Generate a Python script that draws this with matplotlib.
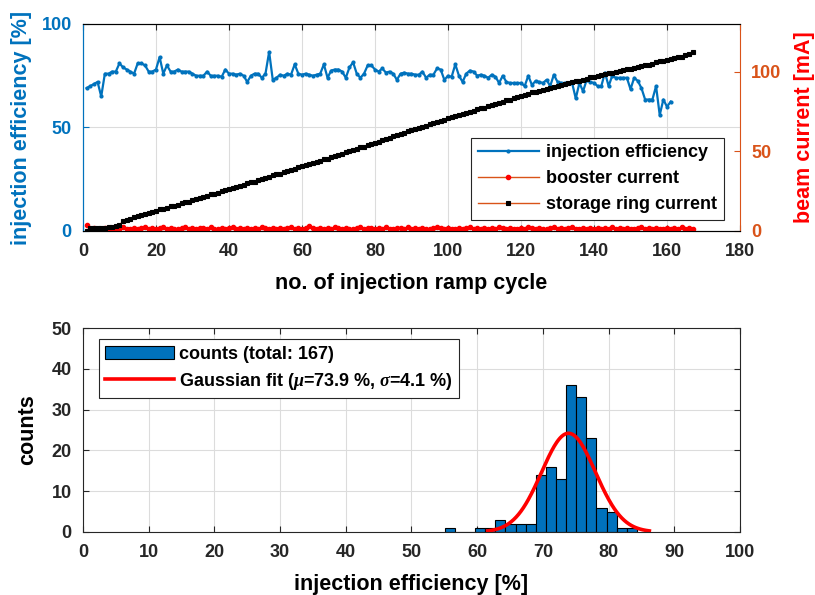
import numpy as np
import matplotlib
matplotlib.use('Agg')
from matplotlib import pyplot as plt

plt.rcParams['font.family'] = ['Liberation Sans', 'DejaVu Sans']
plt.rcParams['font.weight'] = 'bold'
plt.rcParams['axes.labelweight'] = 'bold'
plt.rcParams['mathtext.fontset'] = 'custom'
plt.rcParams['mathtext.it'] = 'Liberation Serif:italic:bold'

# injection efficiency [%] per ramp cycle (cycles 1..161)
inj_eff = [
    69, 70, 71, 72, 65, 76, 76, 77, 77, 81,
    79, 78, 77, 76, 81, 81, 80, 77, 77, 78,
    84, 76, 80, 77, 77, 78, 77, 77, 77, 76,
    75, 75, 75, 77, 75, 75, 75, 74.5, 78, 76,
    76, 75.5, 76, 75, 72, 75, 76, 76, 74, 76,
    86.5, 73, 74, 75.5, 75, 76, 75.5, 80.5, 76, 75.5,
    76, 75.5, 75, 75.5, 76, 80.5, 74, 77.5, 78, 78,
    77, 74, 79, 81.5, 76, 74, 76, 80, 80, 78,
    77, 78.5, 76.5, 77, 76, 73, 76, 76.5, 76, 76,
    75.5, 75.5, 77, 74, 75.5, 75.5, 78.5, 78, 73, 75,
    74.5, 80.5, 75, 72, 76, 77.5, 77, 75, 75.5, 75,
    74, 75.5, 74.5, 71.5, 75, 72, 71.5, 71.5, 71.5, 71.5,
    70, 75, 70.5, 72.5, 72, 71.5, 73, 70, 75.5, 72,
    71.5, 71.5, 71.5, 71.5, 64, 71.5, 67.5, 73, 72, 71.5,
    70, 70, 76.5, 70, 75, 74, 74, 74, 74, 68.5,
    74, 72.5, 69, 63.5, 63.5, 63.5, 70, 56, 63.5, 60,
    62.5,
]

# storage ring current [mA] per ramp cycle (cycles 1..167)
ring_current = [
    0, 2, 2, 2, 2, 2, 2.5, 2.5, 3, 4,
    6, 7, 7.5, 8.5, 9.5, 10, 10.5, 11.5, 12, 12.5,
    13.5, 14, 14.5, 15.5, 16, 16.5, 17.5, 18, 18.5, 19.5,
    20, 20.5, 21.5, 22, 23, 23.5, 24, 25, 25.5, 26.5,
    27, 27.5, 28.5, 29, 30, 30.5, 31, 32, 32.5, 33.5,
    34, 35, 35.5, 36, 37, 37.5, 38.5, 39, 40, 40.5,
    41.5, 42, 42.5, 43.5, 44, 45, 45.5, 46.5, 47, 48,
    48.5, 49.5, 50, 51, 51.5, 52.5, 53, 54, 54.5, 55.5,
    56, 57, 57.5, 58.5, 59.5, 60, 61, 61.5, 62.5, 63.5,
    64, 64.5, 65.5, 66, 67, 67.5, 68.5, 69, 70, 71,
    71.5, 72, 73, 73.5, 74, 75, 75.5, 76.5, 77, 77.5,
    78.5, 79, 80, 80.5, 81, 82, 82.5, 83.5, 84, 84.5,
    85.5, 86, 87, 87.5, 88, 88.5, 89, 90, 90.5, 91,
    91.5, 92, 93, 93.5, 94, 94.5, 95, 95.5, 96.5, 97,
    97.5, 98, 98.5, 99, 99.5, 100, 100.5, 101, 101.5, 102,
    102.5, 103, 103.5, 104, 104.5, 105, 106, 106.5, 107, 107.5,
    108, 108.5, 109, 109.5, 110.5, 111, 112.5,
]

# booster current [mA] per ramp cycle (cycles 1..167)
booster_current = [
    3.5, 1.5, 2.0, 1.0, 1.5, 2.0, 1.5, 1.0, 2.0, 1.5,
    2.5, 1.5, 1.0, 2.0, 1.5, 2.0, 2.5, 1.5, 2.0, 1.0,
    2.0, 2.5, 1.5, 2.0, 1.5, 1.0, 2.0, 2.5, 1.5, 2.0,
    1.5, 2.0, 2.0, 1.5, 2.5, 1.5, 1.0, 2.0, 1.5, 2.0,
    2.5, 1.5, 2.0, 1.5, 2.0, 1.0, 2.0, 1.5, 2.5, 2.0,
    1.5, 2.0, 1.5, 2.0, 1.0, 2.0, 2.5, 1.5, 2.0, 1.5,
    2.0, 3.0, 2.0, 1.5, 2.0, 1.0, 2.0, 1.5, 2.5, 2.0,
    1.5, 2.0, 1.5, 1.0, 2.0, 2.5, 1.5, 2.0, 2.0, 1.5,
    2.0, 1.5, 2.5, 1.5, 1.0, 2.0, 2.0, 1.5, 2.5, 1.5,
    2.0, 1.5, 2.0, 1.0, 1.5, 2.0, 2.5, 2.0, 1.5, 2.0,
    1.5, 1.0, 2.0, 1.5, 2.0, 2.5, 1.5, 2.0, 1.5, 2.0,
    1.0, 2.0, 1.5, 2.5, 2.0, 1.5, 2.0, 1.5, 1.0, 2.0,
    1.5, 2.5, 2.0, 1.5, 2.0, 1.0, 1.5, 2.0, 2.5, 1.5,
    2.0, 1.5, 2.0, 2.5, 1.5, 1.0, 2.0, 1.5, 2.0, 1.5,
    2.0, 1.0, 2.0, 1.5, 2.5, 1.5, 2.0, 1.5, 2.0, 1.0,
    1.5, 2.0, 2.5, 1.5, 2.0, 1.5, 2.0, 1.0, 1.5, 2.0,
    1.5, 2.0, 1.5, 2.5, 1.5, 2.0, 1.5,
]

# histogram of injection efficiency
bin_edges = [55.05, 56.59, 58.13, 59.67, 61.21, 62.75, 64.29, 65.83, 67.37, 68.91,
             70.45, 71.99, 73.53, 75.07, 76.61, 78.15, 79.69, 81.23, 82.77, 84.31]
counts = [1, 0, 0, 1, 1, 3, 2, 2, 2, 14, 16, 13, 36, 33, 23, 6, 5, 1, 1]
fit_mu = 73.9
fit_sigma = 4.1
fit_peak = 24.2

blue = '#0072bd'
orange = '#d95319'
red = '#ff0000'
grid_c = '#dcdcdc'
dark = '#262626'
tick_fs = 13
label_fs = 15.5
leg_fs = 13

fig = plt.figure(figsize=(8.15, 5.95), dpi=100)

# ---------------- top panel ----------------
ax1 = fig.add_axes([0.1018, 0.6118, 0.8062, 0.3479])
ax2 = ax1.twinx()

cyc_eff = np.arange(1, len(inj_eff) + 1)
cyc_cur = np.arange(1, len(ring_current) + 1)

h1, = ax1.plot(cyc_eff, inj_eff, color=blue, marker='.', ms=4, lw=1.6,
               label='injection efficiency')
h2, = ax2.plot(cyc_cur, booster_current, color=orange, marker='.', ms=6,
               mfc=red, mec=red, lw=1.0, label='booster current')
h3, = ax2.plot(cyc_cur, ring_current, color=orange, marker='s', ms=3,
               mfc='k', mec='k', mew=0.8, lw=1.0, label='storage ring current')

ax1.set_xlim(0, 180)
ax1.set_xticks(np.arange(0, 181, 20))
ax1.set_ylim(0, 100)
ax1.set_yticks([0, 50, 100])
ax2.set_ylim(0, 130)
ax2.set_yticks([0, 50, 100])

ax1.grid(True, color=grid_c, lw=0.8)
ax1.set_axisbelow(True)

ax1.tick_params(axis='both', direction='in', labelsize=tick_fs, length=4,
                top=True)
ax1.tick_params(axis='x', colors=dark, pad=9)
ax1.tick_params(axis='y', colors=blue, labelcolor=blue, pad=8)
ax2.tick_params(axis='y', direction='in', colors=orange, labelsize=tick_fs,
                length=4, pad=8)
for sp in ('top', 'bottom'):
    ax1.spines[sp].set_color(dark)
ax1.spines['left'].set_color(blue)
ax2.spines['left'].set_color(blue)
ax2.spines['right'].set_color(orange)
ax1.spines['right'].set_visible(False)

ax1.set_xlabel('no. of injection ramp cycle', fontsize=label_fs, labelpad=9)
ax1.set_ylabel('injection efficiency [%]', fontsize=label_fs, color=blue,
               labelpad=7)
ax2.set_ylabel('beam current [mA]', fontsize=label_fs, color=red, labelpad=9)

leg = ax2.legend(handles=[h1, h2, h3], loc='lower right',
                 bbox_to_anchor=(0.975, 0.055), fontsize=leg_fs, fancybox=False,
                 edgecolor=dark, framealpha=1, handlelength=3.4,
                 borderaxespad=0, handletextpad=0.4, borderpad=0.35,
                 labelspacing=0.5)
leg.get_frame().set_linewidth(0.8)

# ---------------- bottom panel ----------------
ax3 = fig.add_axes([0.1018, 0.1059, 0.8062, 0.3428])
edges = np.array(bin_edges)
hb = ax3.bar(edges[:-1], counts, width=np.diff(edges), align='edge',
             color=blue, edgecolor='k', lw=0.8, label='counts (total: 167)')

xg = np.linspace(fit_mu - 3 * fit_sigma, fit_mu + 3 * fit_sigma, 200)
yg = fit_peak * np.exp(-0.5 * ((xg - fit_mu) / fit_sigma) ** 2)
hg, = ax3.plot(xg, yg, color=red, lw=2.6,
               label=r'Gaussian fit ($\mu$=73.9 %, $\sigma$=4.1 %)')

ax3.set_xlim(0, 100)
ax3.set_xticks(np.arange(0, 101, 10))
ax3.set_ylim(0, 50)
ax3.set_yticks(np.arange(0, 51, 10))
ax3.grid(True, color=grid_c, lw=0.8)
ax3.set_axisbelow(True)
ax3.tick_params(axis='both', direction='in', labelsize=tick_fs, length=4,
                top=True, right=True, colors=dark)
ax3.tick_params(axis='x', pad=9)
ax3.tick_params(axis='y', pad=8)
for sp in ax3.spines.values():
    sp.set_color(dark)
ax3.set_xlabel('injection efficiency [%]', fontsize=label_fs, labelpad=9)
ax3.set_ylabel('counts', fontsize=label_fs, labelpad=10)

leg2 = ax3.legend(handles=[hb, hg], loc='upper left',
                  bbox_to_anchor=(0.024, 0.945), fontsize=leg_fs, fancybox=False,
                  edgecolor=dark, framealpha=1, handlelength=3.8,
                  borderaxespad=0, handletextpad=0.3, borderpad=0.35,
                  labelspacing=0.45)
leg2.get_frame().set_linewidth(0.8)

fig.savefig('out.png', dpi=100)
